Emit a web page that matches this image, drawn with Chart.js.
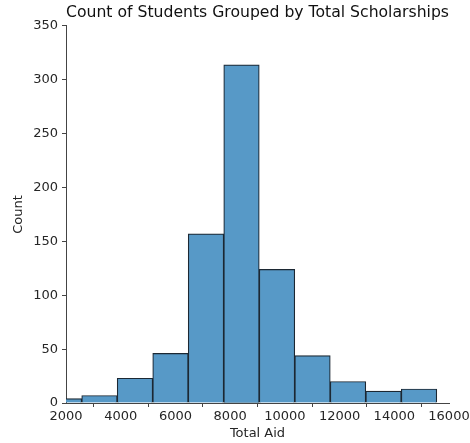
<!DOCTYPE html>
<html>
<head>
<meta charset="utf-8">
<script src="https://cdn.jsdelivr.net/npm/chart.js@4/dist/chart.umd.min.js"></script>
<style>
  html, body { margin: 0; padding: 0; background: #fff; }
  #wrap { width: 470px; height: 443px; }
</style>
</head>
<body>
<div id="wrap"><canvas id="hist"></canvas></div>
<script>
// --- Data ---
const binEdges = [1276, 2574, 3872, 5170, 6468, 7766, 9064, 10362, 11660, 12958, 14256, 15554];
const counts = [4, 7, 23, 46, 157, 314, 124, 44, 20, 11, 13];
const xTicks = [2000, 4000, 6000, 8000, 10000, 12000, 14000, 16000];
const yTicks = [0, 50, 100, 150, 200, 250, 300, 350];

// bars sit at the middle of each bin
const points = counts.map((c, i) => ({ x: (binEdges[i] + binEdges[i + 1]) / 2, y: c }));

const font = 'DejaVu Sans';
const ink = '#262626';

// --- Chart ---
const ctx = document.getElementById('hist').getContext('2d');
new Chart(ctx, {
  type: 'bar',
  data: {
    datasets: [{
      data: points,
      backgroundColor: '#5799c7',
      borderColor: '#1c2833',
      borderWidth: 1.2,
      barPercentage: 1,
      categoryPercentage: 1,
      clip: 0
    }]
  },
  options: {
    responsive: true,
    maintainAspectRatio: false,
    animation: false,
    layout: { padding: { left: 0, right: 21, top: 0, bottom: 0 } },
    plugins: {
      legend: { display: false },
      tooltip: { enabled: false },
      title: {
        display: true,
        fullSize: false,
        text: 'Count of Students Grouped by Total Scholarships',
        color: '#111',
        font: { family: font, size: 16.4, weight: 'normal' },
        padding: { top: 3, bottom: 3.3 }
      }
    },
    scales: {
      x: {
        type: 'linear',
        min: xTicks[0],
        max: xTicks[xTicks.length - 1],
        offset: false,
        afterBuildTicks: s => { s.ticks = xTicks.map(v => ({ value: v })); },
        afterFit: s => { s.height = 40; s.paddingRight = 0; s.paddingLeft = 0; },
        ticks: { color: ink, font: { family: font, size: 13 }, padding: 2, maxRotation: 0, autoSkip: false, callback: v => String(v) },
        grid: { display: true, drawOnChartArea: false, drawTicks: true, tickLength: 4, tickColor: '#444', tickWidth: 1 },
        border: { display: true, color: '#444', width: 1 },
        title: { display: true, text: 'Total Aid', color: ink, font: { family: font, size: 13 }, padding: { top: 0, bottom: 2 } }
      },
      y: {
        min: yTicks[0],
        max: yTicks[yTicks.length - 1],
        afterBuildTicks: s => { s.ticks = yTicks.map(v => ({ value: v })); },
        afterFit: s => { s.width = 66; },
        ticks: { color: ink, font: { family: font, size: 13 }, padding: 4, callback: v => String(v) },
        grid: { display: true, drawOnChartArea: false, drawTicks: true, tickLength: 4, tickColor: '#444', tickWidth: 1 },
        border: { display: true, color: '#444', width: 1 },
        title: { display: true, text: 'Count', color: ink, font: { family: font, size: 13 }, padding: { top: 11, bottom: 0 } }
      }
    }
  }
});
</script>
</body>
</html>
